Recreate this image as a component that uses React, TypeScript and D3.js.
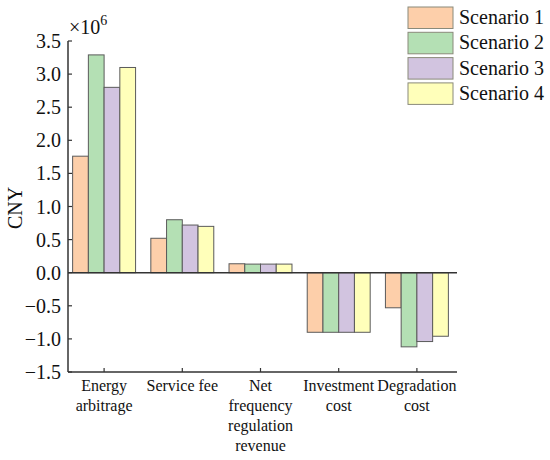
import React from "react";
import * as d3 from "d3";

const categories = [
  ["Energy", "arbitrage"],
  ["Service fee"],
  ["Net", "frequency", "regulation", "revenue"],
  ["Investment", "cost"],
  ["Degradation", "cost"],
];
const categoryKeys = ["Energy arbitrage", "Service fee", "Net frequency regulation revenue", "Investment cost", "Degradation cost"];
const seriesNames = ["Scenario 1", "Scenario 2", "Scenario 3", "Scenario 4"];
const scenario1 = [1.76, 0.52, 0.135, -0.9, -0.53];
const scenario2 = [3.29, 0.8, 0.13, -0.9, -1.12];
const scenario3 = [2.8, 0.72, 0.13, -0.9, -1.04];
const scenario4 = [3.1, 0.7, 0.13, -0.9, -0.96];
const seriesValues = [scenario1, scenario2, scenario3, scenario4];
const colors = ["#FDCFAA", "#B4E0B4", "#D2C4E0", "#FFFFBA"];
const yTicks = [-1.5, -1.0, -0.5, 0.0, 0.5, 1.0, 1.5, 2.0, 2.5, 3.0, 3.5];

const W = 550;
const H = 460;
const axisX = 68;
const axisRight = 457;
const font = "'Liberation Serif', 'Times New Roman', serif";

export default function App() {
  const y = d3.scaleLinear().domain([-1.5, 3.5]).range([372, 41]);
  const x = d3.scaleBand<string>().domain(categoryKeys).range([65, 456]).padding(0);
  const groupW = x.bandwidth() * 0.805;
  const inner = d3.scaleBand<string>().domain(seriesNames).range([0, groupW]).padding(0);
  const minus = (v: number) => d3.format(".1f")(v).replace("-", "\u2212");
  return (
    <svg width={W} height={H} style={{ position: "absolute", left: 0, top: 0, background: "#fff" }} fontFamily={font}>
      {categoryKeys.map((c, ci) => {
        const cx = x(c)! + x.bandwidth() / 2;
        return seriesNames.map((s, si) => {
          const v = seriesValues[si][ci];
          const x0 = cx - groupW / 2 + inner(s)!;
          return (
            <rect
              key={c + s}
              x={x0}
              y={Math.min(y(v), y(0))}
              width={inner.bandwidth()}
              height={Math.abs(y(v) - y(0))}
              fill={colors[si]}
              stroke="#5a5a5a"
              strokeWidth={1}
            />
          );
        });
      })}
      {/* zero line */}
      <line x1={axisX} x2={axisRight} y1={y(0)} y2={y(0)} stroke="#333" strokeWidth={1.5} />
      {/* axes */}
      <line x1={axisX} x2={axisX} y1={y(3.5)} y2={y(-1.5)} stroke="#333" strokeWidth={1.5} />
      <line x1={axisX} x2={axisRight} y1={y(-1.5)} y2={y(-1.5)} stroke="#333" strokeWidth={1.5} />
      {yTicks.map((t) => (
        <g key={t}>
          <line x1={axisX} x2={axisX + 4} y1={y(t)} y2={y(t)} stroke="#333" strokeWidth={1.2} />
          <text x={61} y={y(t)} dy="0.35em" textAnchor="end" fontSize={20} fill="#111">
            {minus(t)}
          </text>
        </g>
      ))}
      {categoryKeys.map((c, ci) => {
        const cx = x(c)! + x.bandwidth() / 2;
        return (
          <g key={c}>
            <line x1={cx} x2={cx} y1={y(-1.5)} y2={y(-1.5) - 4} stroke="#333" strokeWidth={1.2} />
            {categories[ci].map((line, li) => (
              <text key={li} x={cx} y={391 + li * 20} textAnchor="middle" fontSize={16} fill="#111">
                {line}
              </text>
            ))}
          </g>
        );
      })}
      <text x={69} y={34} fontSize={20} fill="#111">
        ×10<tspan fontSize={14} dy={-9}>6</tspan>
      </text>
      <text transform={`translate(22,208) rotate(-90)`} textAnchor="middle" fontSize={20} fill="#111">
        CNY
      </text>
      {seriesNames.map((s, i) => (
        <g key={s} transform={`translate(408,${7 + i * 25.3})`}>
          <rect width={45} height={21.5} fill={colors[i]} stroke="#8a8a7a" strokeWidth={1} />
          <text x={51} y={17} fontSize={20} fill="#111">
            {s}
          </text>
        </g>
      ))}
    </svg>
  );
}
